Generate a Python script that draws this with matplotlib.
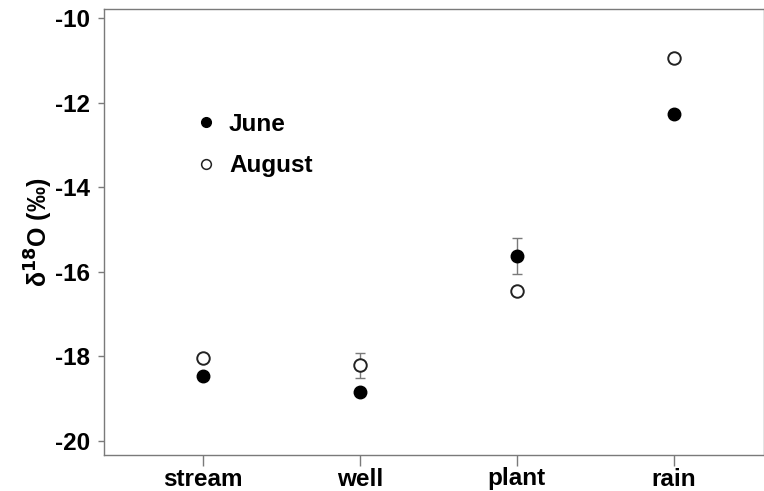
import matplotlib
matplotlib.use("Agg")
import matplotlib.pyplot as plt
from matplotlib.lines import Line2D

categories = ["stream", "well", "plant", "rain"]
june = [-18.47, -18.84, -15.62, -12.27]
june_err = [0.0, 0.0, 0.43, 0.0]
august = [-18.03, -18.21, -16.45, -10.95]
august_err = [0.0, 0.29, 0.0, 0.0]
yticks = [-20, -18, -16, -14, -12, -10]

plt.rcParams['font.family'] = ['Liberation Sans', 'DejaVu Sans']
plt.rcParams['font.weight'] = 'bold'

fig = plt.figure(figsize=(7.64, 4.91), dpi=100)
W, H = 764, 491
left, right, top, bottom = 104, 764, 9, 455
ax = fig.add_axes([left / W, 1 - bottom / H, (right - left) / W, (bottom - top) / H])

x = list(range(len(categories)))
grey = "#7a7a7a"
ms = 9
fs = 17.5

for xi, v, e in zip(x, june, june_err):
    if e > 0:
        ax.errorbar(xi, v, yerr=e, fmt='none', ecolor=grey, elinewidth=1.0, capsize=3.5, capthick=1.0, zorder=1)
for xi, v, e in zip(x, august, august_err):
    if e > 0:
        ax.errorbar(xi, v, yerr=e, fmt='none', ecolor=grey, elinewidth=1.0, capsize=3.5, capthick=1.0, zorder=1)

ax.plot(x, june, 'o', color='black', markersize=ms, linestyle='none', zorder=3)
ax.plot(x, august, 'o', markerfacecolor='white', markeredgecolor='#222222', markeredgewidth=1.4,
        markersize=ms, linestyle='none', zorder=3)

ax.set_xlim(-0.63, 3.575)
ax.set_ylim(-20.33, -9.79)
ax.set_xticks(x)
ax.set_xticklabels(categories, fontweight='bold')
ax.set_yticks(yticks)
ax.set_yticklabels([str(t) for t in yticks], fontweight='bold')

for s in ax.spines.values():
    s.set_color(grey)
    s.set_linewidth(1.0)

ax.tick_params(axis='x', direction='out', length=8, width=1, color=grey, labelsize=fs, pad=1)
ax.tick_params(axis='y', direction='out', length=4, width=1, color=grey, labelsize=fs, pad=6)

ax.set_ylabel(r"δ$^{\mathbf{18}}$O (‰)", fontsize=18, fontweight='bold', labelpad=0)

handles = [
    Line2D([], [], marker='o', color='black', linestyle='none', markersize=7),
    Line2D([], [], marker='o', markerfacecolor='white', markeredgecolor='#222222', markeredgewidth=1.1,
           linestyle='none', markersize=7),
]
leg = ax.legend(handles, ["June", "August"], frameon=False, loc='upper left',
                prop={'size': fs, 'weight': 'bold'},
                bbox_to_anchor=((184 - left) / (right - left), 1 - (103 - top) / (bottom - top)),
                handletextpad=0.45, labelspacing=0.77, handlelength=1.0, borderaxespad=0)

fig.savefig("out.png", dpi=100)
